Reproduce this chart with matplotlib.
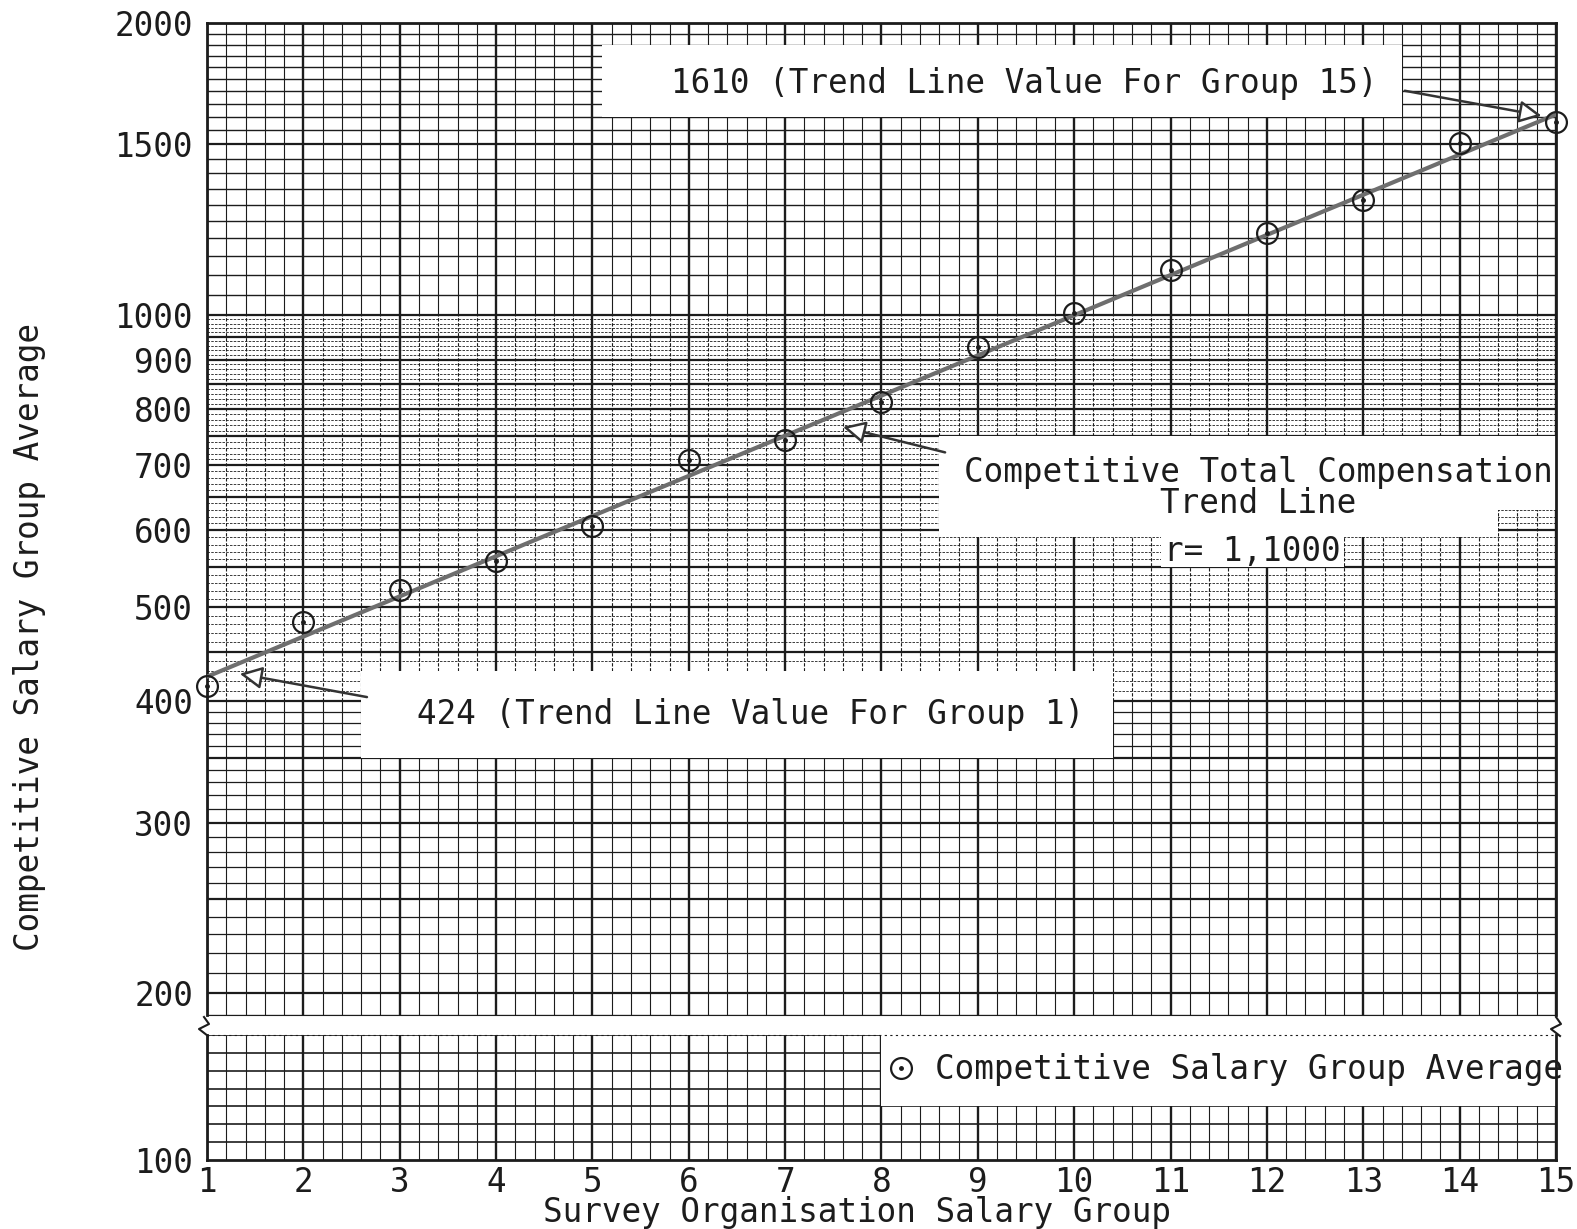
import numpy as np
import matplotlib
matplotlib.use("Agg")
import matplotlib.pyplot as plt
from matplotlib.patches import Rectangle
from matplotlib.lines import Line2D
from matplotlib.legend_handler import HandlerTuple

# data
groups = [1, 2, 3, 4, 5, 6, 7, 8, 9, 10, 11, 12, 13, 14, 15]
salary_avg = [415, 483, 521, 558, 607, 709, 743, 814, 927, 1005,
              1113, 1215, 1314, 1504, 1581]
trend_groups = [1, 15]
trend_values = [424, 1610]
ratio_label = "r= 1,1000"

yticks_top = [200, 300, 400, 500, 600, 700, 800, 900, 1000, 1500, 2000]
yticks_bottom = [100]

FONT = "DejaVu Sans Mono"
FS = 23.5
INK = "#1c1c1c"
plt.rcParams["font.family"] = FONT

fig = plt.figure(figsize=(15.77, 12.29), dpi=100)
W, H = 1577, 1229

def fx(px):
    return px / W

def fy(py):
    return 1 - py / H

L, R = 207, 1556
ax = fig.add_axes([fx(L), fy(1015), fx(R - L), (1015 - 23) / H])
axb = fig.add_axes([fx(L), fy(1160), fx(R - L), (1160 - 1035) / H])

# ---- graph paper background ----
DASH = (0, (3, 1.5))

def paper_verticals(a, y0, y1, dashed=False):
    for x in np.arange(1, 15.001, 0.2):
        major = abs(x - round(x)) < 1e-6
        a.vlines(x, y0, y1, colors=INK, lw=1.7 if major else 0.8,
                 linestyles="solid" if (major or not dashed) else DASH, zorder=0.5)

ax.set_yscale("log")
ax.set_xlim(1, 15)
ax.set_ylim(190, 2000)
paper_verticals(ax, 190, 400)
paper_verticals(ax, 400, 1000, dashed=True)
paper_verticals(ax, 1000, 2000)
for v in np.arange(190, 1000, 10):
    if v % 50:
        if v < 400:
            ax.hlines(v, 1, 15, colors=INK, lw=0.9, zorder=0.5)
        else:
            ax.hlines(v, 1, 15, colors=INK, lw=0.6, linestyles=DASH, zorder=0.5)
for v in np.arange(200, 2001, 50):
    bold = v <= 1000 or v % 500 == 0
    ax.hlines(v, 1, 15, colors=INK, lw=1.6 if bold else 1.0, zorder=0.5)

axb.set_xlim(1, 15)
axb.set_ylim(100, 170)
paper_verticals(axb, 100, 170)
for v in np.arange(110, 171, 10):
    axb.hlines(v, 1, 15, colors=INK, lw=1.2, zorder=0.5)

# ---- white label panels ----
panels = [
    (5.1, 13.4, 1600, 1900),
    (2.6, 10.4, 350, 430),
    (8.6, 15.0, 630, 750),
    (8.6, 14.4, 590, 630),
    (10.9, 12.8, 550, 590),
]
for x0, x1, y0, y1 in panels:
    ax.add_patch(Rectangle((x0, y0), x1 - x0, y1 - y0, fc="white", ec="none", zorder=1))
axb.add_patch(Rectangle((8.0, 130), 7.0, 40, fc="white", ec="none", zorder=1))

# ---- data ----
ax.plot(trend_groups, trend_values, color="#6e6e6e", lw=3, zorder=3,
        solid_capstyle="round")
circ = ax.plot(groups, salary_avg, ls="none", marker="o", ms=15, mfc="none",
               mec=INK, mew=1.6, zorder=4, clip_on=False)[0]
dot = ax.plot(groups, salary_avg, ls="none", marker=".", ms=5, color=INK,
              zorder=4, clip_on=False)[0]

# ---- annotations ----
arrow = dict(arrowstyle="-|>", fc="white", ec="#333333", lw=1.8, mutation_scale=34,
             shrinkA=0, shrinkB=0)
ax.annotate("", xy=(14.85, 1605), xytext=(13.43, 1703), arrowprops=arrow, zorder=5)
ax.annotate("", xy=(1.34, 427), xytext=(2.66, 404), arrowprops=arrow, zorder=5)
ax.annotate("", xy=(7.6, 767), xytext=(8.66, 722), arrowprops=arrow, zorder=5)

txt = dict(fontsize=FS, color=INK, ha="center", va="center", zorder=6)
ax.text(9.48, 1734, "1610 (Trend Line Value For Group 15)", **txt)
ax.text(6.64, 388, "424 (Trend Line Value For Group 1)", **txt)
ax.text(11.91, 689, "Competitive Total Compensation", **txt)
ax.text(11.91, 640, "Trend Line", **txt)
ax.text(11.85, 571, ratio_label, **txt)

leg = axb.legend(handles=[(circ, dot)], labels=["Competitive Salary Group Average"],
                 handler_map={tuple: HandlerTuple(ndivide=1)},
                 loc="center left", bbox_to_anchor=(0.49, 0.72), frameon=False,
                 handlelength=1.0, handletextpad=0.55, borderpad=0,
                 prop={"family": FONT, "size": FS})
for t in leg.get_texts():
    t.set_color(INK)

# ---- axes styling ----
for a in (ax, axb):
    for s in a.spines.values():
        s.set_color(INK)
        s.set_linewidth(2)
    a.tick_params(length=0, labelsize=FS, colors=INK, pad=10)
ax.spines["bottom"].set_linewidth(0.8)
axb.spines["top"].set_linewidth(0.8)
axb.spines["top"].set_linestyle((0, (1, 4)))

ax.set_yticks(yticks_top)
ax.set_yticklabels([str(v) for v in yticks_top])
ax.yaxis.set_minor_locator(matplotlib.ticker.NullLocator())
ax.set_xticks([])
axb.set_yticks(yticks_bottom)
axb.set_yticklabels([str(v) for v in yticks_bottom])
axb.set_xticks(groups)
axb.set_xticklabels([str(g) for g in groups])
axb.tick_params(axis="x", pad=4)

fig.text(fx(857), fy(1222), "Survey Organisation Salary Group",
         fontsize=FS, color=INK, ha="center", va="baseline")
fig.text(fx(30), fy(637), "Competitive Salary Group Average", rotation=90,
         fontsize=FS, color=INK, ha="center", va="center")

# axis break marks
for px in (L - 3, R):
    bx = [fx(px), fx(px + 5), fx(px - 5), fx(px + 4)]
    by = [fy(1017), fy(1024), fy(1029), fy(1036)]
    fig.add_artist(Line2D(bx, by, color=INK, lw=1.5))

fig.savefig("out.png", dpi=100, facecolor="white")
